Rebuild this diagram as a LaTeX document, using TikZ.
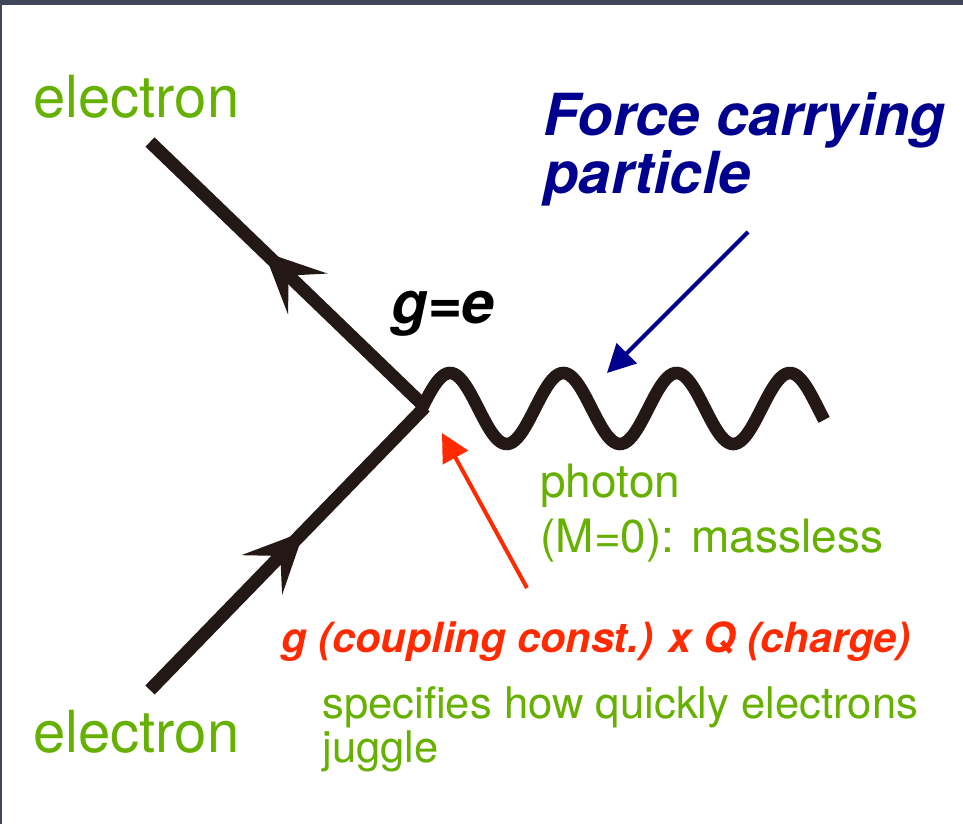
\documentclass[tikz,border=0pt]{standalone}
\usepackage{fontspec}
\setmainfont{TeX Gyre Heros}
\definecolor{elgreen}{HTML}{66B000}
\definecolor{forceblue}{HTML}{00008F}
\definecolor{coupred}{HTML}{FF2A00}
\definecolor{lineblack}{HTML}{231815}
\definecolor{slideedge}{HTML}{40465A}
\usetikzlibrary{positioning, arrows.meta, decorations.markings, calc}

\begin{document}
\begin{tikzpicture}[
    x=0.5pt, y=-0.5pt,
    fermion/.style={line width=6.5pt, draw=lineblack, postaction={decorate},
                    decoration={markings, mark=at position #1 with
                      {\arrow[lineblack]{Stealth[length=30pt, width=28pt, inset=13pt]}}}},
    photon/.style={line width=6.3pt, draw=lineblack},
    pointer/.style={-{Triangle[length=14pt, width=14pt]}, line width=2pt},
    lbl/.style={inner sep=0pt, anchor=base west, align=left},
    greenlbl/.style={lbl, text=elgreen},
  ]
  % slide frame
  \fill[slideedge] (0,0) rectangle (963,824);
  \fill[white] (2,5) rectangle (963,824);

  \coordinate (vtx) at (425,407);
  \coordinate (eout) at (150,142);
  \coordinate (ein) at (150,690);

  % multi-line labels sit on the baseline of their last line
  \node[greenlbl, font=\fontsize{29}{29}\selectfont] (eltop) at (33,118) {electron};
  \node[greenlbl, font=\fontsize{29}{29}\selectfont] (elbot) at (33,752) {electron};
  \node[lbl, text=forceblue, font=\fontsize{29}{26.5}\selectfont\bfseries\itshape]
    (force) at (543,193) {Force carrying\\particle};
  \node[lbl, text=black, font=\fontsize{29.5}{29}\selectfont\bfseries\itshape]
    (geqe) at (391,323) {g=e};
  \node[greenlbl, font=\fontsize{23}{27.5}\selectfont]
    (photonlbl) at (540,552) {photon\\(M=0): massless};
  \node[lbl, text=coupred, font=\fontsize{20.8}{21}\selectfont\bfseries\itshape]
    (coupling) at (281,652) {g (coupling const.) x Q (charge)};
  \node[greenlbl, font=\fontsize{21.8}{22}\selectfont]
    (juggle) at (322,762) {specifies how quickly electrons\\juggle};

  \draw[fermion=0.56] (ein) -- (vtx);
  \draw[fermion=0.585] (vtx) -- (eout);
  \draw[photon, shift={(vtx)}] plot[domain=0:3.5525, samples=160, smooth]
    ({113.3*\x-3.3}, {1.5-35.5*sin(360*\x)});

  \coordinate (forcetail) at (748,232);
  \coordinate (forcetip) at (607,373);
  \coordinate (couptail) at (527,588);
  \coordinate (couptip) at (442,433);
  \draw[pointer, forceblue] (forcetail) -- (forcetip);
  \draw[pointer, coupred] (couptail) -- (couptip);
\end{tikzpicture}
\end{document}
